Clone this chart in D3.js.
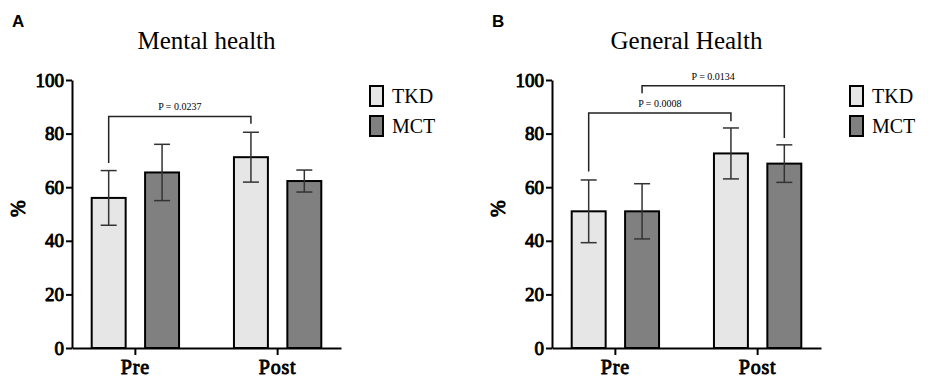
<!DOCTYPE html>
<html>
<head>
<meta charset="utf-8">
<script src="https://cdn.jsdelivr.net/npm/d3@7"></script>
<style>
  body { margin: 0; background: #fff; }
  svg { display: block; }
</style>
</head>
<body>
<svg id="chart"></svg>
<script>
// Data
const groups = ["Pre", "Post"];
const series = ["TKD", "MCT"];
const yTicks = [0, 20, 40, 60, 80, 100];

const mentalTKD = [56, 71.2];
const mentalTKDErr = [10.2, 9.3];
const mentalMCT = [65.5, 62.3];
const mentalMCTErr = [10.5, 4.1];

const generalTKD = [51, 72.6];
const generalTKDErr = [11.7, 9.5];
const generalMCT = [51, 68.8];
const generalMCTErr = [10.3, 7];

// brackets: [group, series] -> [group, series], level and leg ends in % units
const mentalBrackets = [
  { a: ["Pre", "TKD"], b: ["Post", "TKD"], level: 86.4, endA: 69, endB: 83.7, label: "P = 0.0237" }
];
const generalBrackets = [
  { a: ["Pre", "TKD"], b: ["Post", "TKD"], level: 87.7, endA: 65.9, endB: 84.6, label: "P = 0.0008" },
  { a: ["Pre", "MCT"], b: ["Post", "MCT"], level: 97.9, endA: 95.1, endB: 78.4, label: "P = 0.0134" }
];

const width = 935;
const height = 388;
const serif = "'Liberation Serif', 'Times New Roman', serif";

const color = d3.scaleOrdinal().domain(series).range(["#e6e6e6", "#808080"]);

const svg = d3.select("#chart")
    .attr("width", width)
    .attr("height", height)
    .attr("viewBox", [0, 0, width, height]);

// bold serif is not installed, so thicken the regular face with a stroke
function boldSerif(sel, size) {
  sel.attr("font-family", serif)
     .attr("font-weight", "normal")
     .attr("font-size", size)
     .attr("fill", "#000")
     .attr("stroke", "#000")
     .attr("stroke-width", 0.9)
     .attr("stroke-linejoin", "round");
}

function drawPanel(left, letter, title, tkd, tkdErr, mct, mctErr, brackets) {
  const axisW = 269;
  const g = svg.append("g").attr("transform", `translate(${left},0)`);

  const rows = groups.map((grp, i) => ({
    group: grp,
    vals: [
      { key: "TKD", value: tkd[i], err: tkdErr[i] },
      { key: "MCT", value: mct[i], err: mctErr[i] }
    ]
  }));

  const x0 = d3.scaleBand()
      .domain(groups)
      .range([0, axisW])
      .paddingInner(0.386)
      .paddingOuter(0.1385);

  const x1 = d3.scaleBand()
      .domain(series)
      .range([0, x0.bandwidth()])
      .paddingInner(0.364);

  const y = d3.scaleLinear()
      .domain([0, 100])
      .range([348, 80]);

  // panel letter
  svg.append("text")
      .attr("x", left - 60)
      .attr("y", 27)
      .attr("font-family", "'Liberation Sans', Arial, sans-serif")
      .attr("font-weight", "bold")
      .attr("font-size", 17)
      .text(letter);

  // title
  g.append("text")
      .attr("x", axisW / 2)
      .attr("y", 49)
      .attr("text-anchor", "middle")
      .attr("font-family", serif)
      .attr("font-size", 25)
      .text(title);

  // bars
  const bars = g.append("g")
    .selectAll("g")
    .data(rows)
    .join("g")
      .attr("transform", d => `translate(${x0(d.group)},0)`);

  bars.selectAll("rect")
    .data(d => d.vals)
    .join("rect")
      .attr("x", d => x1(d.key))
      .attr("y", d => y(d.value))
      .attr("width", x1.bandwidth())
      .attr("height", d => y(0) - y(d.value))
      .attr("fill", d => color(d.key))
      .attr("stroke", "#000")
      .attr("stroke-width", 2);

  // error bars
  const eb = bars.selectAll("g.err")
    .data(d => d.vals)
    .join("g")
      .attr("class", "err")
      .attr("stroke", "#333")
      .attr("stroke-width", 1.5);

  const cx = d => x1(d.key) + x1.bandwidth() / 2;
  eb.append("line")
      .attr("x1", cx).attr("x2", cx)
      .attr("y1", d => y(d.value - d.err))
      .attr("y2", d => y(d.value + d.err));
  eb.append("line")
      .attr("x1", d => cx(d) - 8).attr("x2", d => cx(d) + 8)
      .attr("y1", d => y(d.value + d.err))
      .attr("y2", d => y(d.value + d.err));
  eb.append("line")
      .attr("x1", d => cx(d) - 8).attr("x2", d => cx(d) + 8)
      .attr("y1", d => y(d.value - d.err))
      .attr("y2", d => y(d.value - d.err));

  // significance brackets
  const bx = ([grp, key]) => x0(grp) + x1(key) + x1.bandwidth() / 2;
  const br = g.append("g")
    .selectAll("g")
    .data(brackets)
    .join("g");

  br.append("path")
      .attr("fill", "none")
      .attr("stroke", "#222")
      .attr("stroke-width", 1.5)
      .attr("d", d => d3.line()([
        [bx(d.a), y(d.endA)],
        [bx(d.a), y(d.level)],
        [bx(d.b), y(d.level)],
        [bx(d.b), y(d.endB)]
      ]));

  br.append("text")
      .attr("x", d => (bx(d.a) + bx(d.b)) / 2)
      .attr("y", d => y(d.level) - 6)
      .attr("text-anchor", "middle")
      .attr("font-family", serif)
      .attr("font-size", 10)
      .text(d => d.label);

  // y axis
  const yAxis = g.append("g")
      .call(d3.axisLeft(y).tickValues(yTicks).tickSize(6).tickSizeOuter(0).tickPadding(2));
  yAxis.select(".domain").attr("stroke", "#000").attr("stroke-width", 2);
  yAxis.selectAll(".tick line").attr("stroke", "#000").attr("stroke-width", 2);
  yAxis.selectAll(".tick text").call(boldSerif, 19);

  // x axis
  const xAxis = g.append("g")
      .attr("transform", `translate(0,${y(0)})`)
      .call(d3.axisBottom(x0).tickSize(7).tickSizeOuter(0).tickPadding(5));
  xAxis.select(".domain").attr("stroke", "#000").attr("stroke-width", 2);
  xAxis.selectAll(".tick line").attr("stroke", "#000").attr("stroke-width", 2);
  xAxis.selectAll(".tick text")
      .call(boldSerif, 20)
      .attr("letter-spacing", 0.8);

  // y label
  g.append("text")
      .attr("transform", `translate(-54,${y(52)}) rotate(-90)`)
      .attr("text-anchor", "middle")
      .attr("dy", "0.35em")
      .call(boldSerif, 20)
      .text("%");

  // legend
  const legend = g.append("g")
      .attr("transform", `translate(${axisW + 29},86)`);

  const items = legend.selectAll("g")
    .data(series)
    .join("g")
      .attr("transform", (d, i) => `translate(0,${i * 30})`);

  items.append("rect")
      .attr("width", 13)
      .attr("height", 20)
      .attr("fill", d => color(d))
      .attr("stroke", "#000")
      .attr("stroke-width", 2);

  items.append("text")
      .attr("x", 22)
      .attr("y", 17)
      .attr("font-family", serif)
      .attr("font-size", 20)
      .text(d => d);
}

drawPanel(72, "A", "Mental health", mentalTKD, mentalTKDErr, mentalMCT, mentalMCTErr, mentalBrackets);
drawPanel(552, "B", "General Health", generalTKD, generalTKDErr, generalMCT, generalMCTErr, generalBrackets);
</script>
</body>
</html>
